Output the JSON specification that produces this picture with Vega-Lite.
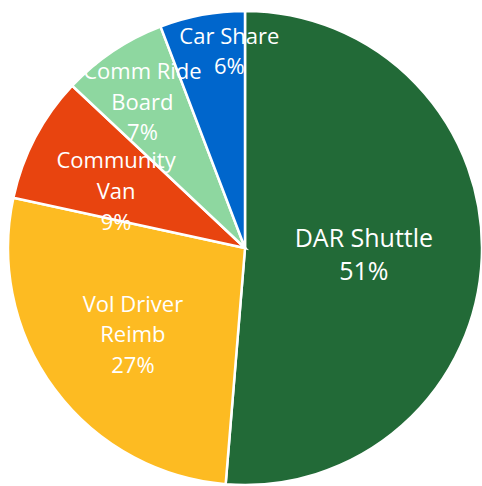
{
  "$schema": "https://vega.github.io/schema/vega-lite/v6.json",
  "autosize": {"type": "none"},
  "width": 474,
  "height": 474,
  "padding": {"left": 8, "top": 11, "right": 0, "bottom": 0},
  "background": "white",
  "config": {"view": {"stroke": null}},
  "data": {
    "values": [
      {"cat": "DAR Shuttle", "value": 51.3, "label": "DAR Shuttle\n51%"},
      {"cat": "Vol Driver Reimb", "value": 27.1, "label": "Vol Driver\nReimb\n27%"},
      {"cat": "Community Van", "value": 8.6, "label": "Community\nVan\n9%"},
      {"cat": "Comm Ride Board", "value": 7.2, "label": "Comm Ride\nBoard\n7%"},
      {"cat": "Car Share", "value": 5.8, "label": "Car Share\n6%"}
    ]
  },
  "encoding": {
    "theta": {"field": "value", "type": "quantitative", "stack": true},
    "order": {"field": "value", "type": "quantitative", "sort": "descending"}
  },
  "layer": [
    {
      "mark": {"type": "arc", "stroke": "white", "strokeWidth": 2.5},
      "encoding": {
        "color": {
          "field": "cat", "type": "nominal", "legend": null,
          "scale": {
            "domain": ["DAR Shuttle", "Vol Driver Reimb", "Community Van", "Comm Ride Board", "Car Share"],
            "range": ["#226A37", "#FDBB22", "#E8440F", "#8ED7A0", "#0066CC"]
          }
        }
      }
    },
    {
      "mark": {"type": "text", "radius": 119, "dy": -14, "font": "Open Sans", "fontSize": 25, "lineHeight": 33, "fill": "white", "align": "center", "baseline": "middle", "lineBreak": "\n"},
      "encoding": {"text": {"condition": {"test": "datum.cat === 'DAR Shuttle'", "field": "label"}, "value": ""}}
    },
    {
      "mark": {"type": "text", "radius": 142, "dx": 2, "dy": -28, "font": "Open Sans", "fontSize": 22, "lineHeight": 30.5, "fill": "white", "align": "center", "baseline": "middle", "lineBreak": "\n"},
      "encoding": {"text": {"condition": {"test": "datum.cat === 'Vol Driver Reimb'", "field": "label"}, "value": ""}}
    },
    {
      "mark": {"type": "text", "radius": 140, "dx": -5, "dy": -21.5, "font": "Open Sans", "fontSize": 22, "lineHeight": 31, "fill": "white", "align": "center", "baseline": "middle", "lineBreak": "\n"},
      "encoding": {"text": {"condition": {"test": "datum.cat === 'Community Van'", "field": "label"}, "value": ""}}
    },
    {
      "mark": {"type": "text", "radius": 177, "dx": -4, "dy": -28.5, "font": "Open Sans", "fontSize": 22, "lineHeight": 30.5, "fill": "white", "align": "center", "baseline": "middle", "lineBreak": "\n"},
      "encoding": {"text": {"condition": {"test": "datum.cat === 'Comm Ride Board'", "field": "label"}, "value": ""}}
    },
    {
      "mark": {"type": "text", "radius": 197, "dx": 20, "dy": -17, "font": "Open Sans", "fontSize": 22, "lineHeight": 30, "fill": "white", "align": "center", "baseline": "middle", "lineBreak": "\n"},
      "encoding": {"text": {"condition": {"test": "datum.cat === 'Car Share'", "field": "label"}, "value": ""}}
    }
  ]
}
